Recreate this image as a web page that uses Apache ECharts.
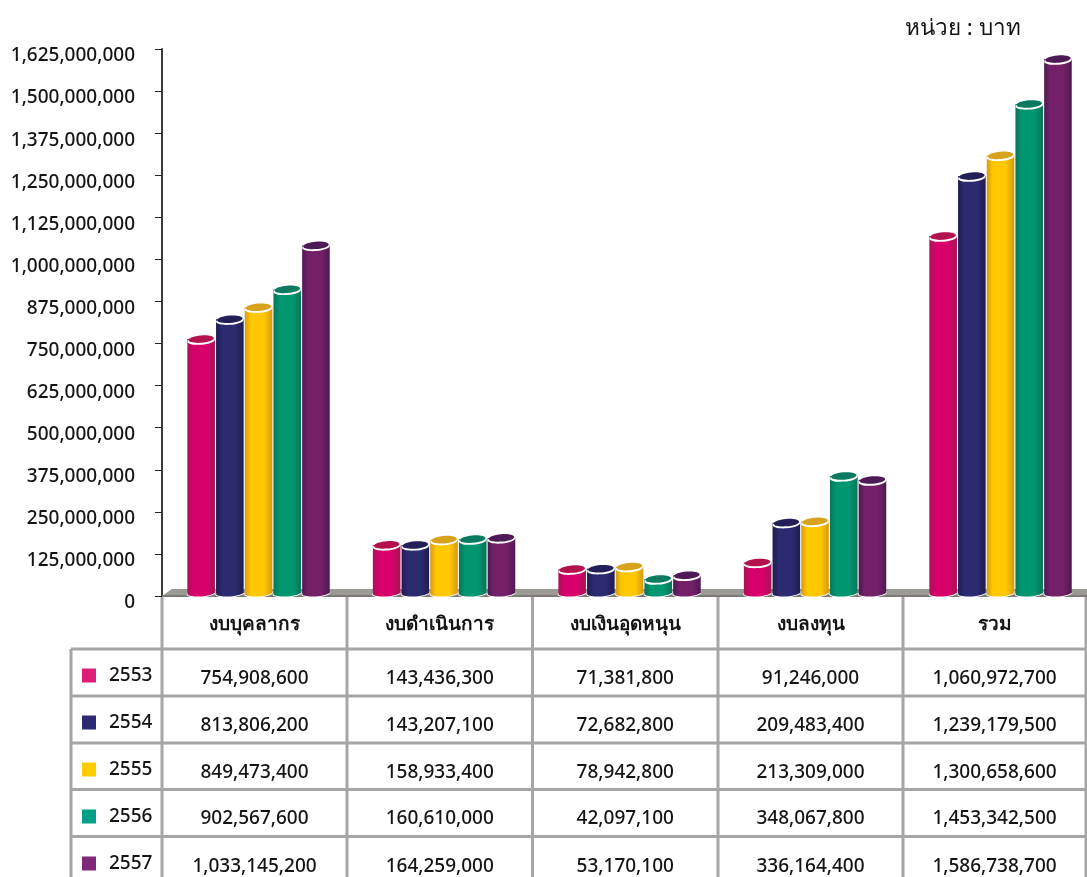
<!DOCTYPE html>
<html>
<head>
<meta charset="utf-8">
<style>html,body{margin:0;padding:0;background:#fff}#c{width:1087px;height:877px}</style>
<script src="https://cdn.jsdelivr.net/npm/echarts@6/dist/echarts.min.js"></script>
</head>
<body>
<div id="c"></div>
<script>
const categories = ['งบบุคลากร', 'งบดำเนินการ', 'งบเงินอุดหนุน', 'งบลงทุน', 'รวม'];
const years = ['2553', '2554', '2555', '2556', '2557'];
const values2553 = [754908600, 143436300, 71381800, 91246000, 1060972700];
const values2554 = [813806200, 143207100, 72682800, 209483400, 1239179500];
const values2555 = [849473400, 158933400, 78942800, 213309000, 1300658600];
const values2556 = [902567600, 160610000, 42097100, 348067800, 1453342500];
const values2557 = [1033145200, 164259000, 53170100, 336164400, 1586738700];
const unitLabel = 'หน่วย : บาท';

const allValues = [values2553, values2554, values2555, values2556, values2557];
const FONT = '"Noto Sans","Open Sans","Noto Sans CJK SC",sans-serif';
const TXT = '#141414';
const swatch = ['#de1f7a', '#2b2a72', '#ffcc00', '#00a088', '#80297a'];
const shades = [
  {edge: '#a51556', mid: '#d8006a', top: '#b3124f'},
  {edge: '#1e1d50', mid: '#2c2a70', top: '#231f58'},
  {edge: '#d59a12', mid: '#ffc800', top: '#d8a31c'},
  {edge: '#0a7458', mid: '#009670', top: '#0a7a60'},
  {edge: '#4c1a50', mid: '#742068', top: '#4e1a55'}
];

const grid = {left: 162, top: 49, width: 927.5, height: 547, outerBoundsMode: 'none'};
const PITCH = 28.7, BW = 27.6, SHIFT = 3.8;

function renderCylinder(seriesIdx) {
  return function (params, api) {
    const p = api.coord([api.value(0), api.value(1)]);
    const base = api.coord([api.value(0), 0]);
    const cx = p[0] + (seriesIdx - 2) * PITCH + SHIFT;
    const topY = p[1] - 2.8, rx = BW / 2, s = shades[seriesIdx];
    const body = new echarts.graphic.LinearGradient(0, 0, 1, 0, [
      {offset: 0, color: s.edge}, {offset: 0.22, color: s.mid},
      {offset: 0.7, color: s.mid}, {offset: 1, color: s.edge}
    ]);
    return {type: 'group', children: [
      {type: 'ellipse', shape: {cx: 0, cy: 0, rx: rx + 0.7, ry: 4}, x: cx, y: base[1] - 2.6, rotation: 0.08, style: {fill: '#ffffff'}},
      {type: 'ellipse', shape: {cx: 0, cy: 0, rx: rx, ry: 3.4}, x: cx, y: base[1] - 3, rotation: 0.08, style: {fill: body}},
      {type: 'rect', shape: {x: cx - rx, y: topY, width: BW, height: base[1] - 3 - topY}, style: {fill: body}},
      {type: 'ellipse', shape: {cx: 0, cy: 0, rx: rx, ry: 4.1}, x: cx, y: topY + 1.5, rotation: 0.08, style: {fill: '#ffffff'}},
      {type: 'ellipse', shape: {cx: 0, cy: 0, rx: rx - 1, ry: 3.7}, x: cx, y: topY, rotation: 0.08, style: {fill: s.top}}
    ]};
  };
}

const series = years.map((y, i) => ({
  name: y,
  type: 'custom',
  z: 3 + i,
  itemStyle: {color: swatch[i]},
  renderItem: renderCylinder(i),
  encode: {x: 0, y: 1},
  data: allValues[i].map((v, k) => [k, v])
}));

series.push({
  name: 'floor', type: 'custom', z: 2, silent: true, data: [[0, 0]],
  renderItem: function (params, api) {
    const o = api.coord([0, 0]), cs = params.coordSys, r = cs.x + cs.width;
    return {type: 'group', children: [
      {type: 'polygon', shape: {points: [[cs.x, o[1]], [cs.x + 10, o[1] - 7], [r, o[1] - 7], [r, o[1]]]}, style: {fill: '#9c9a94'}},
      {type: 'rect', shape: {x: cs.x, y: o[1] - 1, width: cs.width, height: 2}, style: {fill: '#7d7b77'}}
    ]};
  }
});

// Table layout
const colX = [162, 347, 532.5, 718, 903, 1086];
const leftX = 71;
const rowY = [597, 649, 696, 743, 789.5, 836.5, 884];
const LINE = '#a6a6a6';
const g = [];
const line = (x1, y1, x2, y2) => g.push({type: 'line', shape: {x1, y1, x2, y2}, style: {stroke: LINE, lineWidth: 3}, z: 1});
colX.forEach(x => line(x, rowY[0], x, 877));
line(leftX, rowY[1], leftX, 877);
rowY.slice(1, 6).forEach(y => line(leftX, y, 1087, y));
const cellText = (text, x, y, w) => g.push({type: 'text', x, y, z: 10, style: {text, fill: TXT, font: (w || 500) + ' 19px ' + FONT, align: 'center', verticalAlign: 'middle'}});
categories.forEach((c, k) => {
  const cx = (colX[k] + colX[k + 1]) / 2;
  cellText(c, cx, 625, 600);
  allValues.forEach((vals, r) => cellText(vals[k].toLocaleString('en-US'), cx, (rowY[r + 1] + rowY[r + 2]) / 2 + 6));
});
g.push({type: 'text', x: 905, y: 29, z: 10, style: {text: unitLabel, fill: TXT, font: '22.5px ' + FONT, align: 'left', verticalAlign: 'middle'}});

const chart = echarts.init(document.getElementById('c'), null, {renderer: 'canvas'});
chart.setOption({
  animation: false,
  backgroundColor: '#ffffff',
  grid: grid,
  legend: {
    data: years, orient: 'vertical', left: 82, top: 666, padding: 0,
    itemWidth: 14, itemHeight: 14, itemGap: 28, icon: 'rect', selectedMode: false,
    textStyle: {color: TXT, fontFamily: FONT, fontSize: 19, fontWeight: 500, padding: [22, 0, 0, 8]}
  },
  xAxis: {type: 'category', data: categories, show: false},
  yAxis: {
    type: 'value', min: 0, max: 1625000000, interval: 125000000,
    axisLine: {show: true, lineStyle: {color: '#3a3a3a', width: 2}},
    axisTick: {show: true, length: 7, lineStyle: {color: '#222', width: 1}},
    splitLine: {show: false},
    axisLabel: {
      margin: 27, color: TXT, fontFamily: FONT, fontSize: 19, fontWeight: 500,
      verticalAlign: 'top', lineHeight: 14,
      formatter: v => v.toLocaleString('en-US')
    }
  },
  series: series,
  graphic: g
});
</script>
</body>
</html>
